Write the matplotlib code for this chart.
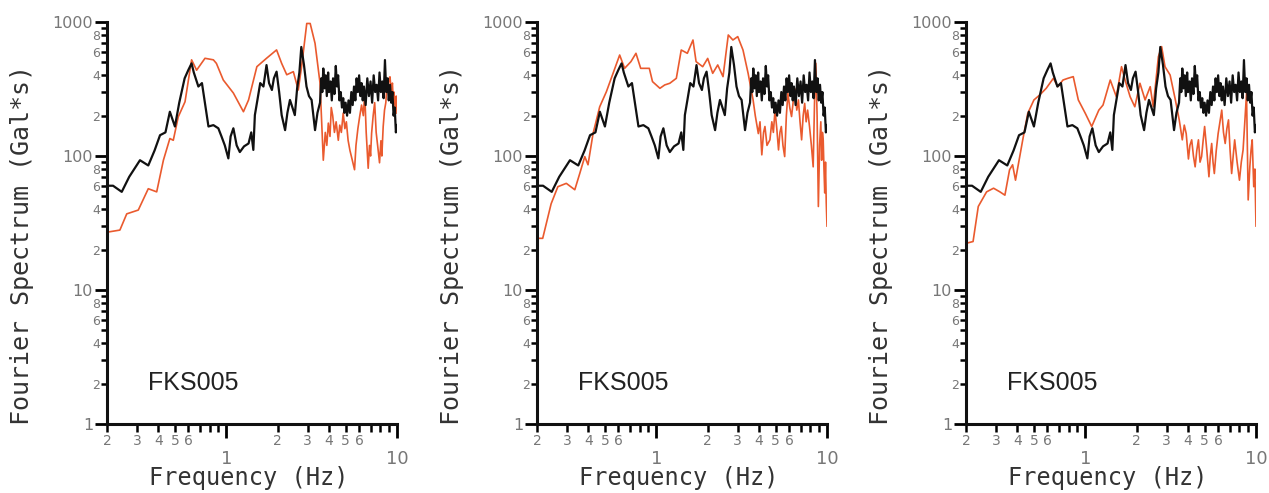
import numpy as np
import matplotlib
matplotlib.use("Agg")
import matplotlib.pyplot as plt
from matplotlib.ticker import FixedLocator, FuncFormatter

# observed record (same black curve in all three panels)
black_freq = [0.20, 0.217, 0.244, 0.27, 0.312, 0.349, 0.38, 0.409, 0.44, 0.467, 0.50, 0.53,
              0.57, 0.60, 0.626, 0.645, 0.686, 0.72, 0.786, 0.84, 0.898, 0.939, 0.98, 1.028,
              1.06, 1.10, 1.15, 1.20, 1.27, 1.35, 1.40, 1.44, 1.47, 1.52, 1.58, 1.65, 1.72,
              1.78, 1.85, 1.90, 1.97, 2.04, 2.11, 2.21, 2.28, 2.36, 2.44, 2.52, 2.60, 2.68,
              2.75, 2.85, 2.95, 3.05, 3.16, 3.31, 3.42, 3.54, 3.60, 3.65, 3.70, 3.76, 3.82,
              3.88, 3.95, 4.00, 4.08, 4.15, 4.22, 4.30, 4.38, 4.45, 4.52, 4.60, 4.68, 4.76,
              4.84, 4.92, 5.00, 5.10, 5.20, 5.30, 5.40, 5.50, 5.60, 5.70, 5.80, 5.90, 6.00,
              6.10, 6.20, 6.30, 6.40, 6.55, 6.70, 6.85, 7.00, 7.15, 7.30, 7.45, 7.60, 7.75,
              7.90, 8.05, 8.20, 8.35, 8.50, 8.65, 8.80, 8.95, 9.10, 9.25, 9.40, 9.55, 9.70,
              9.85, 10.0]
black_amp = [60, 60, 54, 70, 93, 85, 110, 143, 150, 214, 166, 250,
             380, 440, 491, 420, 330, 350, 166, 170, 161, 139, 120, 96,
             140, 161, 120, 107, 118, 124, 150, 111, 202, 260, 350, 330, 477,
             350, 311, 380, 426, 300, 202, 156, 210, 262, 230, 202, 320, 420,
             651, 480, 330, 280, 262, 156, 210, 250, 380, 300, 450, 320, 400,
             280, 420, 300, 360, 260, 380, 290, 470, 330, 400, 260, 300, 230,
             270, 210, 250, 200, 260, 210, 300, 240, 330, 260, 380, 300, 400,
             280, 350, 260, 330, 240, 380, 280, 360, 250, 400, 300, 340, 260,
             420, 300, 360, 270, 520, 300, 380, 260, 340, 250, 300, 200, 230,
             150, 170]

orange1_freq = [0.20, 0.238, 0.261, 0.305, 0.349, 0.391, 0.428, 0.467, 0.489, 0.523, 0.573,
                0.626, 0.67, 0.75, 0.84, 0.875, 0.96, 1.10, 1.26, 1.35, 1.51, 1.72, 1.97,
                2.11, 2.26, 2.47, 2.64, 2.76, 2.96, 3.10, 3.31, 3.54, 3.70, 3.80, 3.88,
                3.96, 4.05, 4.12, 4.20, 4.30, 4.40, 4.53, 4.62, 4.72, 4.84, 4.95, 5.05,
                5.17, 5.30, 5.45, 5.64, 5.75, 5.90, 6.04, 6.20, 6.35, 6.47, 6.60, 6.78,
                6.90, 7.00, 7.10, 7.25, 7.40, 7.55, 7.70, 7.90, 8.05, 8.15, 8.30, 8.45,
                8.60, 8.70, 8.85, 9.00, 9.10, 9.25, 9.40, 9.50, 9.60, 9.75, 9.90, 10.0]
orange1_amp = [27, 28, 37, 39.5, 57, 54, 93, 135, 131, 196, 254,
               522, 437, 536, 522, 491, 369, 295, 214, 262, 464, 536, 619,
               491, 404, 426, 311, 464, 975, 975, 693, 350, 93, 150, 120,
               176, 140, 230, 200, 150, 180, 131, 170, 150, 209, 160, 180,
               131, 110, 95, 79, 120, 160, 196, 240, 200, 295, 150, 81,
               120, 100, 148, 200, 250, 150, 120, 89, 130, 100, 166, 220,
               250, 311, 330, 380, 390, 300, 350, 262, 300, 230, 280, 209]

orange2_freq = [0.20, 0.216, 0.242, 0.265, 0.297, 0.333, 0.356, 0.381, 0.398, 0.426, 0.466,
                0.51, 0.558, 0.61, 0.652, 0.71, 0.76, 0.81, 0.91, 0.95, 1.05, 1.12, 1.20,
                1.31, 1.40, 1.52, 1.64, 1.71, 1.87, 2.00, 2.14, 2.29, 2.46, 2.64, 2.81,
                3.00, 3.22, 3.45, 3.69, 3.80, 3.96, 4.05, 4.15, 4.25, 4.33, 4.45, 4.63,
                4.75, 4.85, 4.96, 5.08, 5.20, 5.30, 5.40, 5.52, 5.65, 5.78, 5.90, 6.05,
                6.20, 6.35, 6.50, 6.65, 6.80, 6.95, 7.10, 7.25, 7.40, 7.55, 7.70, 7.90,
                8.10, 8.30, 8.45, 8.60, 8.75, 8.90, 9.05, 9.20, 9.30, 9.40, 9.50, 9.60,
                9.70, 9.80, 9.90, 10.0]
orange2_amp = [24.3, 24.3, 44, 59, 62.5, 56, 74, 99, 86, 147, 233,
               302, 414, 567, 451, 506, 584, 451, 451, 359, 320, 339, 349,
               380, 618, 584, 734, 506, 464, 535, 414, 478, 391, 800, 734,
               778, 618, 414, 262, 200, 147, 180, 102, 150, 166, 120, 132,
               180, 150, 220, 160, 111, 150, 166, 120, 99, 200, 294, 230,
               197, 260, 316, 220, 262, 180, 132, 200, 247, 180, 220, 166,
               120, 83, 250, 492, 200, 42, 120, 180, 93, 150, 132, 80,
               53, 90, 45, 30]

orange3_freq = [0.20, 0.22, 0.236, 0.264, 0.29, 0.316, 0.338, 0.36, 0.375, 0.39, 0.43,
                0.46, 0.50, 0.54, 0.59, 0.65, 0.69, 0.74, 0.79, 0.85, 0.91, 1.00, 1.09,
                1.20, 1.27, 1.40, 1.52, 1.63, 1.71, 1.83, 1.95, 2.09, 2.24, 2.40, 2.50,
                2.68, 2.80, 2.93, 3.14, 3.37, 3.55, 3.70, 3.80, 3.90, 4.02, 4.10, 4.20,
                4.30, 4.40, 4.50, 4.60, 4.70, 4.80, 4.90, 5.00, 5.15, 5.30, 5.40, 5.50,
                5.60, 5.70, 5.85, 6.00, 6.15, 6.30, 6.45, 6.60, 6.75, 6.90, 7.05, 7.20,
                7.35, 7.50, 7.75, 8.00, 8.20, 8.40, 8.60, 8.80, 9.00, 9.20, 9.35, 9.50,
                9.70, 9.85, 10.0]
orange3_amp = [22.3, 23, 42, 54, 57.5, 54, 51, 79, 86, 66, 132,
               208, 262, 285, 320, 380, 329, 369, 380, 391, 262, 208, 166,
               220, 240, 369, 277, 464, 369, 277, 233, 349, 262, 329, 233,
               551, 655, 464, 402, 262, 186, 132, 170, 147, 95, 120, 132,
               100, 83, 110, 132, 90, 99, 130, 166, 110, 70, 100, 124,
               90, 74, 110, 147, 180, 220, 150, 124, 160, 186, 110, 74,
               100, 132, 90, 66, 90, 111, 180, 294, 47, 83, 110, 132,
               59, 80, 30]

orange_series = [(orange1_freq, orange1_amp), (orange2_freq, orange2_amp),
                 (orange3_freq, orange3_amp)]
station = "FKS005"

BLACK = "#111111"
ORANGE = "#ea5a2e"
TICK_GRAY = "#777777"
LABEL_FONT = ["DejaVu Sans Mono"]
NUM_FONT = ["Liberation Sans Narrow", "DejaVu Sans"]

x_minor = [d * s for s in (0.1, 1.0) for d in range(2, 10)]
y_minor = [d * s for s in (1, 10, 100) for d in range(2, 10)]


def x_minor_fmt(v, pos):
    lead = int(round(v / (0.1 if v < 1 else 1.0)))
    return str(lead) if lead in (2, 3, 4, 5, 6) else ""


def y_minor_fmt(v, pos):
    lead = int(round(v / 10 ** np.floor(np.log10(v) + 1e-9)))
    return str(lead) if lead in (2, 4, 6, 8) else ""


fig = plt.figure(figsize=(12.69, 4.93), dpi=100, facecolor="white")
lefts = [107, 537, 966]
for left, (of, oa) in zip(lefts, orange_series):
    ax = fig.add_axes([left / 1269, 69 / 493, 290 / 1269, 402 / 493])
    ax.plot(black_freq, black_amp, color=BLACK, lw=1.6, zorder=3)
    ax.plot(of, oa, color=ORANGE, lw=1.2, zorder=2)
    ax.set_xscale("log")
    ax.set_yscale("log")
    ax.set_xlim(0.2, 10)
    ax.set_ylim(1, 1000)

    for side in ("top", "right"):
        ax.spines[side].set_visible(False)
    for side in ("left", "bottom"):
        ax.spines[side].set_linewidth(2.2)
        ax.spines[side].set_color("#111111")

    ax.xaxis.set_major_locator(FixedLocator([1, 10]))
    ax.xaxis.set_minor_locator(FixedLocator(x_minor))
    ax.xaxis.set_major_formatter(FuncFormatter(lambda v, p: "%g" % v))
    ax.xaxis.set_minor_formatter(FuncFormatter(x_minor_fmt))
    ax.yaxis.set_major_locator(FixedLocator([1, 10, 100, 1000]))
    ax.yaxis.set_minor_locator(FixedLocator(y_minor))
    ax.yaxis.set_major_formatter(FuncFormatter(lambda v, p: "%d" % v))
    ax.yaxis.set_minor_formatter(FuncFormatter(y_minor_fmt))

    ax.tick_params(axis="x", which="major", direction="out", length=10, width=2,
                   pad=9, labelsize=13, labelcolor=TICK_GRAY)
    ax.tick_params(axis="x", which="minor", direction="out", length=6, width=1.8,
                   pad=1, labelsize=10, labelcolor=TICK_GRAY)
    ax.tick_params(axis="y", which="major", direction="out", length=9, width=2,
                   pad=1, labelsize=11.5, labelcolor=TICK_GRAY)
    ax.tick_params(axis="y", which="minor", direction="out", length=4, width=1.8,
                   pad=1, labelsize=9, labelcolor=TICK_GRAY)
    for lab in ax.get_xticklabels(which="both") + ax.get_yticklabels(which="both"):
        lab.set_family(NUM_FONT)

    ax.set_xlabel("Frequency (Hz)", family=LABEL_FONT, fontsize=17, color="#333333")
    ax.xaxis.label.set_verticalalignment("center")
    ax.xaxis.set_label_coords(0.49, -0.134)
    ax.set_ylabel("Fourier Spectrum (Gal*s)", family=LABEL_FONT, fontsize=18,
                  color="#333333")
    ax.yaxis.label.set_verticalalignment("center")
    ax.yaxis.set_label_coords(-0.293, 0.445)

    ax.text(0.141, 0.102, station, transform=ax.transAxes, fontsize=18,
            family=["Liberation Sans", "DejaVu Sans"], color="#222222",
            ha="left", va="center")

fig.savefig("out.png", dpi=100, facecolor="white")
